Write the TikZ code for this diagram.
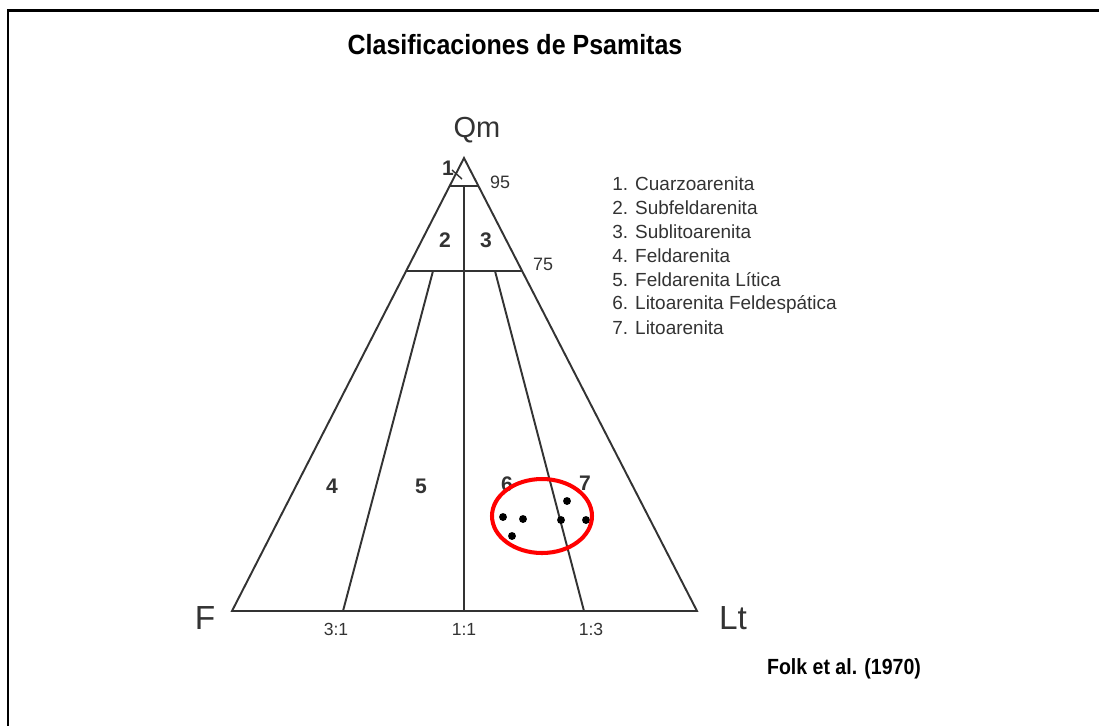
\documentclass[tikz,border=0pt]{standalone}
\usepackage{fontspec}
\setmainfont{Liberation Sans}
\definecolor{ink}{HTML}{333333}
\begin{document}
\begin{tikzpicture}[x=0.02cm,y=-0.02cm,
  edge/.style={draw=ink,line width=1.1pt},
  vtx/.style={font=\fontsize{16.5pt}{18pt}\selectfont,text=ink,inner sep=0pt},
  big/.style={font=\fontsize{19pt}{22pt}\selectfont,text=ink,inner sep=0pt},
  num/.style={font=\bfseries\fontsize{12pt}{14pt}\selectfont,text=ink,inner sep=0pt},
  pct/.style={font=\fontsize{10.2pt}{12pt}\selectfont,text=ink,inner sep=0pt},
  ratio/.style={font=\fontsize{10pt}{11pt}\selectfont,text=ink,inner sep=0pt},
  legend/.style={font=\fontsize{10.8pt}{13pt}\selectfont,text=ink,inner sep=0pt,anchor=west},
  dot/.style={circle,fill=black,inner sep=0pt,minimum size=4.5pt},
  ring/.style={draw=red,line width=2.3pt}]
\useasboundingbox (0,0) rectangle (1099,725);
\fill[white] (0,0) rectangle (1099,725);
% frame
\draw[line width=1.7pt,line cap=rect] (8,725) -- (8,10) -- (1099,10);
% title
\node[inner sep=0pt] (title) at (515,45) {\scalebox{0.9}[1]{\bfseries\fontsize{15.8pt}{18pt}\selectfont Clasificaciones de Psamitas}};
% vertices
\coordinate (Q) at (464,158);
\coordinate (Fv) at (232,611);
\coordinate (L) at (697,611);
% 95 line
\coordinate (a95) at (450,186);
\coordinate (b95) at (478,186);
% 75 line
\coordinate (a75) at (406,271);
\coordinate (b75) at (522,271);
% internal points
\coordinate (m95) at (464,186);
\coordinate (m0) at (464,611);
\coordinate (l75) at (433,271);
\coordinate (l0) at (343,611);
\coordinate (r75) at (495,271);
\coordinate (r0) at (584,611);
\draw[edge,line join=miter] (Fv) -- (Q) -- (L) -- cycle;
\draw[edge] (a95) -- (b95);
\draw[edge] (a75) -- (b75);
\draw[edge] (m95) -- (m0);
\draw[edge] (l75) -- (l0);
\draw[edge] (r75) -- (r0);
% leader for 1
\coordinate (t1) at (452,170);
\coordinate (t2) at (462,179);
\draw[ink,line width=0.8pt] (t1) -- (t2);
% vertex labels
\node[vtx] (qm) at (477,130) {Qm};
\node[big] (f) at (205,618) {F};
\node[big] (lt) at (733,618) {Lt};
% percentages
\node[pct] (p95) at (500,182) {95};
\node[pct] (p75) at (543,264) {75};
% ratios
\node[ratio] (r31) at (336,629) {3:1};
\node[ratio] (r11) at (464,629) {1:1};
\node[ratio] (r13) at (591,629) {1:3};
% field numbers
\node[num] (n1) at (448,168) {1};
\node[num] (n2) at (445,240) {2};
\node[num] (n3) at (486,240) {3};
\node[num] (n4) at (332,486) {4};
\node[num] (n5) at (421,486) {5};
\node[num] (n6) at (507,484) {6};
\node[num] (n7) at (585,483) {7};
% legend
\node[legend] (l1) at (612,184) {1. Cuarzoarenita};
\node[legend] (l2) at (612,208) {2. Subfeldarenita};
\node[legend] (l3) at (612,232) {3. Sublitoarenita};
\node[legend] (l4) at (612,256) {4. Feldarenita};
\node[legend] (l5) at (612,280) {5. Feldarenita Lítica};
\node[legend] (l6) at (612,304) {6. Litoarenita Feldespática};
\node[legend] (l7) at (612,328) {7. Litoarenita};
% data
\node[dot] (d1) at (503,517) {};
\node[dot] (d2) at (523,519) {};
\node[dot] (d3) at (512,536) {};
\node[dot] (d4) at (567,501) {};
\node[dot] (d5) at (561,520) {};
\node[dot] (d6) at (586,520) {};
\coordinate (ringc) at (542,516);
\draw[ring] (ringc) ellipse [x radius=50,y radius=37];
% reference
\node[inner sep=0pt] (folk) at (844,669) {\scalebox{0.89}[1]{\bfseries\fontsize{12.5pt}{15pt}\selectfont Folk et al. (1970)}};
\end{tikzpicture}
\end{document}
